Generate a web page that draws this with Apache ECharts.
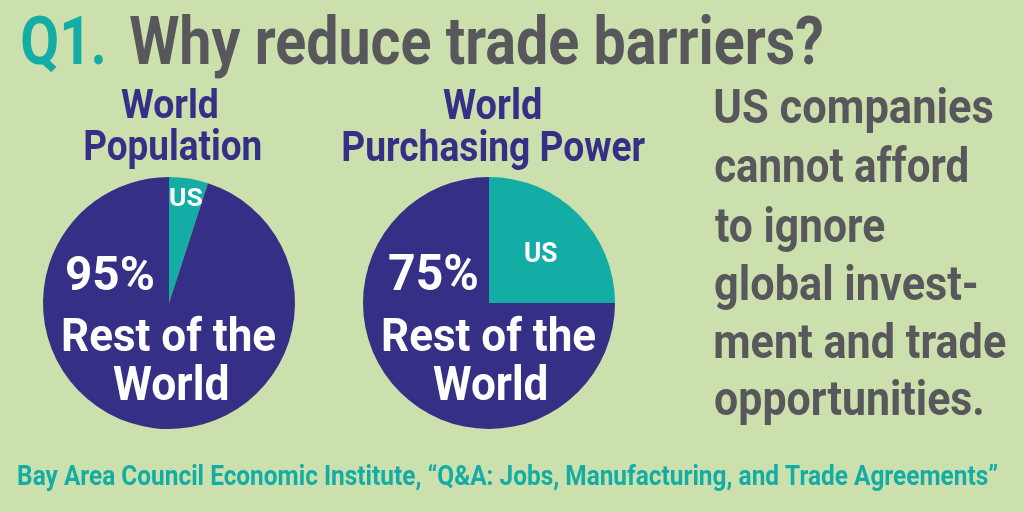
<!DOCTYPE html>
<html>
<head>
<meta charset="utf-8">
<script src="https://cdn.jsdelivr.net/npm/echarts@6/dist/echarts.min.js"></script>
<style>html,body{margin:0;padding:0;background:#cbe0ad;}#c{width:1024px;height:512px;}</style>
</head>
<body>
<div id="c"></div>
<script>
const categories = ['US', 'Rest of the World'];
const populationShare = [5, 95];
const purchasingShare = [25, 75];
const pieTitles = [['World', 'Population'], ['World', 'Purchasing Power']];
const restLabelLines = ['Rest of the', 'World'];
const sideText = ['US companies', 'cannot afford', 'to ignore', 'global invest-', 'ment and trade', 'opportunities.'];
const sourceText = 'Bay Area Council Economic Institute, \u201cQ&A: Jobs, Manufacturing, and Trade Agreements\u201d';

const NAVY = '#352f86', TEAL = '#13ada5', GRAY = '#58575b', BG = '#cbe0ad';
const FF = 'Roboto, "Liberation Sans", Arial, sans-serif';
const chart = echarts.init(document.getElementById('c'));

const cv = document.createElement('canvas').getContext('2d');
cv.textBaseline = 'middle'; cv.textAlign = 'left';
cv.font = 'bold 100px ' + FF;
const hm = cv.measureText('H');
const capR = (hm.actualBoundingBoxAscent + hm.actualBoundingBoxDescent) / 100;
const descR = hm.actualBoundingBoxDescent / 100;

// fit text ink box to [L,R] with baseline and cap height
function fit(text, L, R, baseline, cap, color) {
  const size = cap / capR;
  const font = 'bold ' + size.toFixed(2) + 'px ' + FF;
  cv.font = font;
  const m = cv.measureText(text);
  const w = m.actualBoundingBoxLeft + m.actualBoundingBoxRight;
  const s = (R - L) / w;
  return {
    type: 'text', x: L + m.actualBoundingBoxLeft * s, y: baseline - descR * size,
    scaleX: s, z: 100, silent: true,
    style: { text: text, fill: color, font: font, textAlign: 'left', textVerticalAlign: 'middle' }
  };
}

function pieSeries(values, cx) {
  return {
    type: 'pie', radius: 126, center: [cx, 303], startAngle: 90, clockwise: true,
    silent: true, label: { show: false }, labelLine: { show: false },
    itemStyle: { borderWidth: 0 }, z: 2,
    data: categories.map((c, i) => ({ name: c, value: values[i], itemStyle: { color: i === 0 ? TEAL : NAVY } }))
  };
}

const g = [];
// title
g.push(fit('Q1', 22, 82, 64, 48, TEAL));
g.push(fit('.', 94, 103, 64, 48, TEAL));
g.push(fit('Why reduce trade barriers?', 130, 822, 64, 48, GRAY));
// pie titles
g.push(fit(pieTitles[0][0], 121, 217, 118, 29.5, NAVY));
g.push(fit(pieTitles[0][1], 85, 261, 160, 30, NAVY));
g.push(fit(pieTitles[1][0], 443, 541, 119, 30, NAVY));
g.push(fit(pieTitles[1][1], 343, 645, 161, 30, NAVY));
// in-pie labels
g.push(fit(categories[0], 170, 202, 206.5, 18.5, '#fff'));
g.push(fit(categories[0], 525, 557, 262, 20.5, '#fff'));
g.push(fit(populationShare[1] + '%', 67, 153, 290, 35, '#fff'));
g.push(fit(purchasingShare[1] + '%', 389, 477, 290, 36, '#fff'));
g.push(fit(restLabelLines[0], 63, 275, 351.5, 33.5, '#fff'));
g.push(fit(restLabelLines[1], 113, 227, 399.5, 34, '#fff'));
g.push(fit(restLabelLines[0], 383, 595, 351, 33.5, '#fff'));
g.push(fit(restLabelLines[1], 433, 546, 400, 34, '#fff'));
// side text
const sideRight = [993, 967, 885, 977, 1006, 982];
const sideBase = [123, 182, 242, 300, 358, 415];
sideText.forEach((t, i) => g.push(fit(t, 715, sideRight[i], sideBase[i], 35, GRAY)));
// source
g.push(fit(sourceText, 18, 997, 485, 20, TEAL));

chart.setOption({
  backgroundColor: BG,
  animation: false,
  series: [pieSeries(populationShare, 169), pieSeries(purchasingShare, 489)],
  graphic: { elements: g }
});
</script>
</body>
</html>
